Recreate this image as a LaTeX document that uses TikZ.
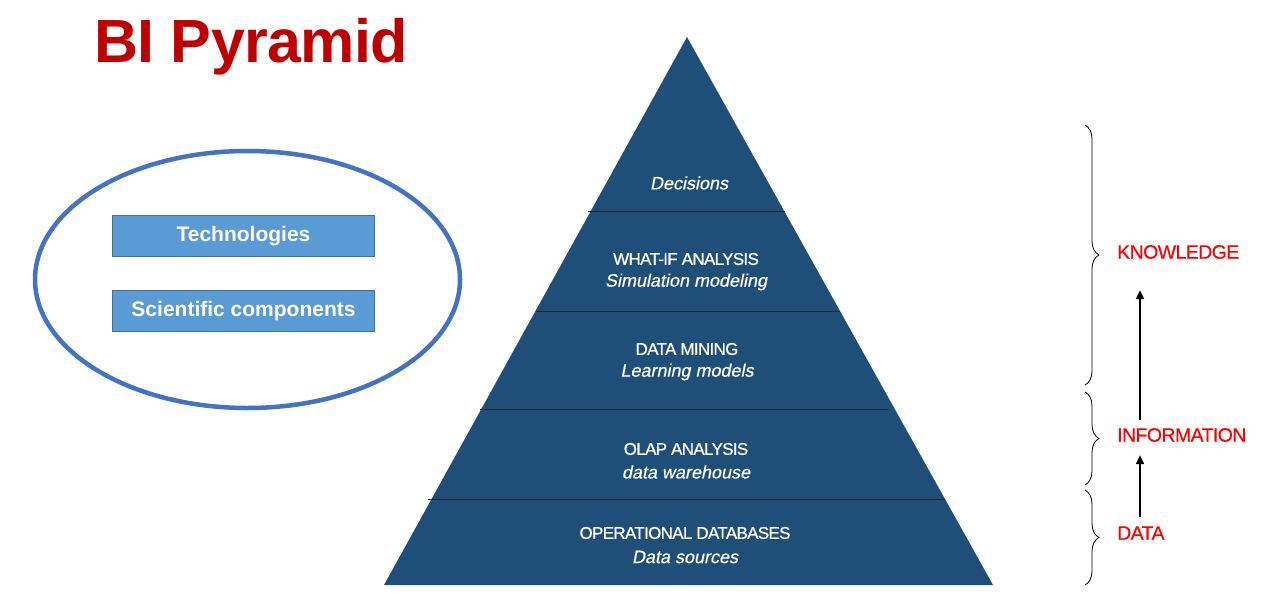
\documentclass[tikz,border=0pt]{standalone}
\usepackage{fontspec}
\setmainfont{Liberation Sans}
\newfontfamily\capsfont[LetterSpace=-4,FakeBold=0.8]{Liberation Sans}
\newfontfamily\itfont[FakeBold=0.6,FakeSlant=0.2]{Liberation Sans}
\newfontfamily\redfont[LetterSpace=-3,FakeBold=0.4]{Liberation Sans}
\newfontfamily\titlefont[LetterSpace=-1]{Liberation Sans}
\usetikzlibrary{shapes.geometric,arrows.meta,decorations.pathreplacing}
\definecolor{pyrblue}{RGB}{31,78,121}
\definecolor{titlered}{RGB}{192,0,0}
\definecolor{ringblue}{RGB}{68,114,196}
\definecolor{boxfill}{RGB}{91,155,213}
\definecolor{boxline}{RGB}{65,113,156}
\definecolor{lvlred}{RGB}{255,0,0}
\tikzset{
  capstext/.style={text=white, inner sep=0pt, font=\capsfont\fontsize{17}{20}\selectfont},
  ittext/.style={text=white, inner sep=0pt, font=\itfont\fontsize{18}{21}\selectfont},
  techbox/.style={draw=boxline, line width=1pt, fill=boxfill, minimum width=262pt, minimum height=41pt, inner sep=0pt, text=white, font=\bfseries\fontsize{21}{24}\selectfont},
  lvl/.style={text=lvlred, inner sep=0pt, anchor=west, font=\redfont\fontsize{19.5}{22}\selectfont},
  bracestyle/.style={decorate, decoration={brace, amplitude=14pt}, line width=0.8pt},
  uparrow/.style={line width=1.8pt, -{Triangle[length=9pt,width=8pt]}},
  layerline/.style={line width=1pt, draw=black!85}
}
\begin{document}
\begin{tikzpicture}[x=1pt,y=-1pt]
\useasboundingbox (0,0) rectangle (1277,597);
% title
\node[anchor=base west, inner sep=0pt, text=titlered, font=\titlefont\bfseries\fontsize{61}{70}\selectfont] (title) at (94,62) {BI Pyramid};
% ellipse and boxes
\node[draw=ringblue, line width=4.5pt, ellipse, minimum width=425pt, minimum height=257pt, inner sep=0pt] (ring) at (247.5,279.5) {};
\node[techbox] (tech) at (243.5,236) {Technologies};
\node[techbox] (sci) at (243.5,311) {Scientific components};
% pyramid
\fill[pyrblue] (687,37) -- (993,585) -- (384,585) -- cycle;
\draw[layerline] (588,211) -- (785,211);
\draw[layerline] (536,311) -- (840,311);
\draw[layerline] (480,409) -- (888,409);
\draw[layerline] (428,499) -- (945,499);
\node[ittext] (dec) at (689,183) {Decisions};
\node[capstext] (what) at (686,259) {WHAT-IF ANALYSIS};
\node[ittext] (sim) at (686,282) {Simulation modeling};
\node[capstext] (dm) at (687,349) {DATA MINING};
\node[ittext] (lm) at (687,372) {Learning models};
\node[capstext] (olap) at (686,449) {OLAP ANALYSIS};
\node[ittext] (dw) at (686,472) {data warehouse};
\node[capstext] (opdb) at (685,533) {OPERATIONAL DATABASES};
\node[ittext] (ds) at (685,557) {Data sources};
% braces
\draw[bracestyle] (1085,125) -- (1085,385);
\draw[bracestyle] (1085,392) -- (1085,485);
\draw[bracestyle] (1085,490) -- (1085,585);
% levels
\node[lvl] (know) at (1117,252) {KNOWLEDGE};
\node[lvl] (info) at (1117,435) {INFORMATION};
\node[lvl] (data) at (1117,533) {DATA};
\coordinate (ax) at (1140,0);
\draw[uparrow, shorten <=8pt, shorten >=31pt] (info.north -| ax) -- (know.south -| ax);
\draw[uparrow, shorten <=9pt, shorten >=13pt] (data.north -| ax) -- (info.south -| ax);
\end{tikzpicture}
\end{document}
